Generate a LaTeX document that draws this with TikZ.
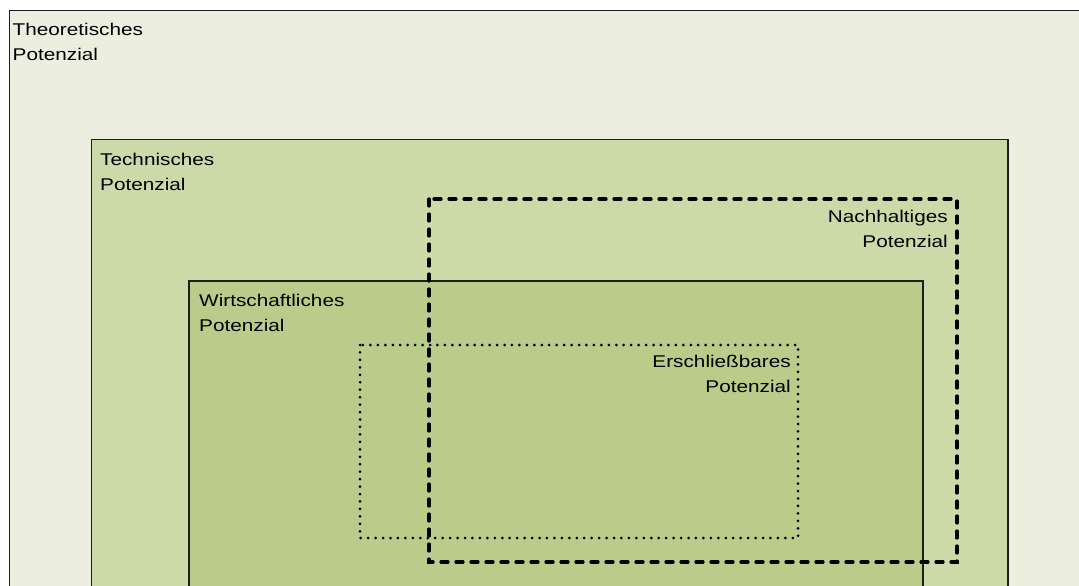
\documentclass[tikz,border=0pt]{standalone}
\usepackage{fontspec}
\setmainfont{Liberation Sans}[FakeStretch=1.22]
\definecolor{theofill}{RGB}{236,239,224}
\definecolor{techfill}{RGB}{204,218,170}
\definecolor{econfill}{RGB}{185,204,137}
\definecolor{edge}{RGB}{30,30,30}
\tikzset{
  level/.style={draw=edge, line width=1.5pt},
  label/.style={inner sep=0pt, font=\fontsize{17}{25}\selectfont, text=black},
  leftlabel/.style={label, align=left, anchor=base west},
  rightlabel/.style={label, align=right, anchor=base east},
  sustain/.style={line width=3.2pt, line cap=round, dash pattern=on 7pt off 8pt},
  access/.style={line width=3pt, line cap=round, dash pattern=on 0pt off 7.45pt},
}
\begin{document}
\begin{tikzpicture}[x=1pt, y=-1pt]
  \useasboundingbox (0,0) rectangle (1079,586);
  \fill[white] (0,0) rectangle (1079,586);
  \clip (0,0) rectangle (1079,586);
  % nested potential levels
  \draw[level, fill=theofill] (9.5,10.5) rectangle (1100,620);
  \draw[level, fill=techfill] (91.7,139.5) rectangle (1008,620);
  \draw[level, fill=econfill] (189,281) rectangle (923,620);
  % level captions (anchored at the baseline of their last line)
  \node[leftlabel] (theo) at (12.5,61) {Theoretisches\\Potenzial};
  \node[leftlabel] (tech) at (100,190) {Technisches\\Potenzial};
  \node[leftlabel] (econ) at (199,331) {Wirtschaftliches\\Potenzial};
  \node[rightlabel] (sust) at (948,247.7) {Nachhaltiges\\Potenzial};
  \node[rightlabel] (acc) at (791,392.5) {Erschließbares\\Potenzial};
  % overlapping restrictions
  \draw[access] (360,345) rectangle (798,538);
  \draw[sustain] (429,199) rectangle (957,562);
\end{tikzpicture}
\end{document}
